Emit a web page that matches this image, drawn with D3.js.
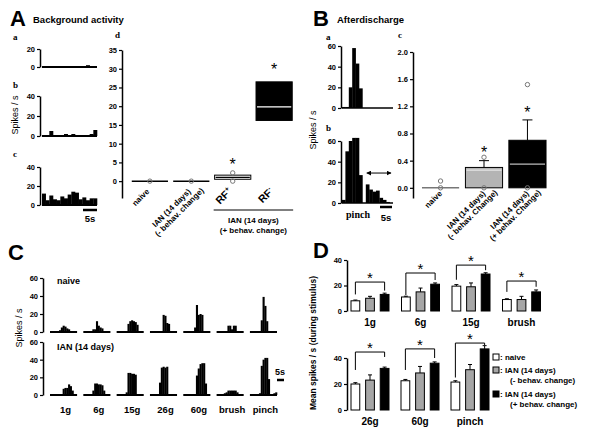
<!DOCTYPE html>
<html>
<head>
<meta charset="utf-8">
<script src="https://cdn.jsdelivr.net/npm/d3@7"></script>
<style>
body { margin: 0; background: #fff; }
text { font-family: "Liberation Sans", Arial, sans-serif; fill: #000; }
.serif { font-family: "Liberation Serif", "Times New Roman", serif; }
</style>
</head>
<body>
<script>
// ---- A: background activity histograms (spikes/s per bin)
var bgA = [0,0,0,0,0,0,0,0,0,0,0,0,2,1,0];
var bgB = [1,1,5,1,1,1,2,1,2,1,1,1,1,2,6];
var bgC = [12,5,10,6,5,9,7,11,14,13,6,8,5,7,7];

// ---- A d: box plots
var adLabels = [["naive"], ["IAN (14 days)", "(- behav. change)"], ["RF+"], ["RF-"]];
var adQ1 = [0, 0, 0.5, 16.2];
var adMed = [0, 0, 1.0, 19.8];
var adQ3 = [0, 0, 1.6, 26.5];
var adPts = [[0], [0], [2.2, 0], []];
var adStar = [null, null, 5.1, 30.5];

// ---- B: afterdischarge histograms
var adHistA = [1,1,20,58,43,19,0,0,0,0,0,0,0,0,0];
var adHistB = [3,50,60,63,63,27,0,18,13,11,12,5,3,1,0];

// ---- B c: box plots
var bcLabels = [["naive"], ["IAN (14 days)", "(- behav. Change)"], ["IAN (14 days)", "(+ behav. Change)"]];
var bcQ1 = [0, 0, 0];
var bcMed = [0, 0.26, 0.35];
var bcQ3 = [0, 0.3, 0.7];
var bcWhisk = [0, 0.4, 1.0];
var bcPts = [[0, 0.1], [0.45, 0], [1.52, 0]];
var bcStar = [null, 0.56, 1.15];

// ---- C: responses to stimuli
var stimuli = ["1g", "6g", "15g", "26g", "60g", "brush", "pinch"];
var cNaive = [
  [0,0,0,0,0,2,5,7,6,4,3,1,0,0,0],
  [0,0,0,0,0,3,3,12,7,5,4,0,0,0,0],
  [0,0,0,0,0,0,9,12,13,12,11,8,0,0,0],
  [0,0,0,0,0,0,0,19,18,10,9,0,0,0,0],
  [0,0,0,0,0,0,5,30,19,20,19,0,0,0,0],
  [0,0,0,0,0,0,7,7,3,7,7,0,0,0,0],
  [0,0,0,0,0,0,13,39,29,12,0,0,0,0,0]
];
var cIan = [
  [0,0,0,0,0,0,1,7,8,8,12,10,5,0,0],
  [0,0,0,0,0,5,13,13,12,12,11,5,0,0,0],
  [0,0,0,0,0,3,25,25,24,24,23,0,0,0,0],
  [0,0,0,0,0,14,31,32,31,32,0,0,0,0,0],
  [0,0,0,0,0,0,0,22,30,35,36,36,13,0,0],
  [0,0,0,0,2,3,5,5,5,5,5,3,0,0,0],
  [0,0,0,0,0,2,33,40,42,42,18,0,0,2,3]
];

// ---- D: mean spikes during stimulus
var dTopGroups = ["1g", "6g", "15g", "brush"];
var dTopNaive = [8, 11, 19.5, 9], dTopNaiveErr = [0.6, 0.6, 1.2, 0.6];
var dTopMinus = [10, 15, 19, 9], dTopMinusErr = [1.5, 3, 3, 2.5];
var dTopPlus = [13, 21, 29, 15], dTopPlusErr = [1, 1, 1, 1.5];
var dTopBracket = [[22.7, 13, 16], [29.8, 12.5, 24.3], [36, 24.5, 32], [23.5, 15, 19]];
var dBotGroups = ["26g", "60g", "pinch"];
var dBotNaive = [20, 22.5, 21.5], dBotNaiveErr = [1, 1, 1];
var dBotMinus = [23, 28.5, 31], dBotMinusErr = [4, 5, 4];
var dBotPlus = [32, 36, 47], dBotPlusErr = [1, 1, 2.5];
var dBotBracket = [[44.6, 30.8, 40.8], [47, 30.8, 40], [51.5, 25, 50]];
var legendLabels = [[": naive"], [": IAN (14 days)", "(- behav. change)"], [": IAN (14 days)", "(+ behav. change)"]];

var svg = d3.select("body").append("svg").attr("width", 600).attr("height", 441);
svg.append("rect").attr("width", 600).attr("height", 441).attr("fill", "#fff");

function txt(x, y, s, size, opt) {
  opt = opt || {};
  var t = svg.append("text").attr("x", x).attr("y", y).text(s)
    .style("font-size", size + "px").style("font-weight", opt.normal ? "normal" : "bold")
    .attr("text-anchor", opt.anchor || "start");
  if (opt.serif) t.attr("class", "serif");
  if (opt.rot) t.attr("transform", "rotate(" + opt.rot + "," + x + "," + y + ")");
  return t;
}

function axisL(x, scale, ticks, fmt) {
  var ax = d3.axisLeft(scale).tickValues(ticks).tickSize(3).tickSizeOuter(0).tickPadding(2);
  if (fmt) ax.tickFormat(fmt);
  var g = svg.append("g").attr("transform", "translate(" + x + ",0)").call(ax);
  g.select(".domain").attr("stroke-width", 1.5);
  g.selectAll(".tick line").attr("stroke-width", 1.2);
  g.selectAll(".tick text").style("font-size", "7.5px").style("font-weight", "bold");
  return g;
}

function hist(vals, x0, x1, y, lw) {
  var xb = d3.scaleBand().domain(d3.range(vals.length)).range([x0, x1]);
  svg.append("g").selectAll("rect").data(vals).join("rect")
    .attr("x", function (d, i) { return xb(i); })
    .attr("width", xb.bandwidth() + 0.3)
    .attr("y", function (d) { return y(d); })
    .attr("height", function (d) { return y(0) - y(d); })
    .attr("fill", "#000");
  svg.append("line").attr("x1", x0).attr("x2", x1).attr("y1", y(0)).attr("y2", y(0))
    .attr("stroke", "#000").attr("stroke-width", lw || 2);
  return xb;
}

function star(x, y, size) {
  txt(x, y, "*", size || 16, { anchor: "middle", normal: true });
}

function rotLabels(scale, labels, y, dx, step, size) {
  labels.forEach(function (lines, i) {
    lines.forEach(function (t, j) {
      var px = scale(i) + scale.bandwidth() / 2 + dx + j * step, py = y - j;
      var el = svg.append("text").attr("transform", "translate(" + px + "," + py + ") rotate(-45)")
        .attr("text-anchor", "end").style("font-weight", "bold");
      var m = t.match(/^RF(.)$/);
      if (m) {
        el.style("font-size", "10.5px").text("RF");
        el.append("tspan").attr("dy", -4).style("font-size", "7px").text(m[1]);
      } else {
        el.style("font-size", size + "px").text(t);
      }
    });
  });
}

function boxes(scale, y, q1, med, q3, whisk, pts, stars, fills, medCol, flatCol) {
  var bw = scale.bandwidth() * 0.95;
  q1.forEach(function (d, i) {
    var x0 = scale(i) + (scale.bandwidth() - bw) / 2, cx = scale(i) + scale.bandwidth() / 2;
    if (q3[i] === q1[i]) {
      svg.append("line").attr("x1", x0).attr("x2", x0 + bw).attr("y1", y(med[i])).attr("y2", y(med[i]))
        .attr("stroke", flatCol).attr("stroke-width", 1.5);
    } else {
      if (whisk && whisk[i] > q3[i]) {
        svg.append("line").attr("x1", cx).attr("x2", cx).attr("y1", y(q3[i])).attr("y2", y(whisk[i])).attr("stroke", "#000");
        svg.append("line").attr("x1", cx - 5).attr("x2", cx + 5).attr("y1", y(whisk[i])).attr("y2", y(whisk[i])).attr("stroke", "#000");
      }
      svg.append("rect").attr("x", x0).attr("width", bw).attr("y", y(q3[i])).attr("height", y(q1[i]) - y(q3[i]))
        .attr("fill", fills[i]).attr("stroke", "#000").attr("stroke-width", 1);
      svg.append("line").attr("x1", x0 + 1).attr("x2", x0 + bw - 1).attr("y1", y(med[i])).attr("y2", y(med[i]))
        .attr("stroke", medCol[i]).attr("stroke-width", 1.2);
    }
    pts[i].forEach(function (p) {
      svg.append("circle").attr("cx", cx).attr("cy", y(p)).attr("r", 2.2)
        .attr("fill", "none").attr("stroke", "#777").attr("stroke-width", 1);
    });
    if (stars[i] !== null) star(cx, y(stars[i]) + 8);
  });
}

// ================= Panel A =================
txt(10, 26, "A", 22);
txt(33, 23, "Background activity", 9.5);
txt(13, 40, "a", 9, { serif: true });
txt(13, 88, "b", 9, { serif: true });
txt(13, 157, "c", 9, { serif: true });
txt(115, 38, "d", 9, { serif: true });
txt(18, 115, "Spikes / s", 9, { anchor: "middle", rot: -90, normal: true });

var yAa = d3.scaleLinear().domain([0, 20]).range([67, 49]);
var yAb = d3.scaleLinear().domain([0, 40]).range([136, 96]);
var yAc = d3.scaleLinear().domain([0, 40]).range([205, 167]);
hist(bgA, 42, 97, yAa);
hist(bgB, 42, 97, yAb);
hist(bgC, 42, 97, yAc);
axisL(40, yAa, [0, 20]);
axisL(40, yAb, [0, 20, 40]);
axisL(40, yAc, [0, 20, 40]);
svg.append("line").attr("x1", 83).attr("x2", 97).attr("y1", 210).attr("y2", 210).attr("stroke", "#000").attr("stroke-width", 2.5);
txt(90, 222, "5s", 9.5, { anchor: "middle" });

var yAd = d3.scaleLinear().domain([-4.5, 35]).range([198, 50]);
var xAd = d3.scaleBand().domain(d3.range(4)).range([130, 294]).paddingInner(0.08).paddingOuter(0.02);
axisL(122, yAd, d3.range(0, 36, 5));
boxes(xAd, yAd, adQ1, adMed, adQ3, null, adPts, adStar, ["#000", "#000", "#fff", "#000"], ["#000", "#000", "#000", "#fff"], "#000");
rotLabels(xAd, adLabels, 192, 0, 13, 8);
var rfX0 = xAd(2), rfX1 = xAd(3) + xAd.bandwidth();
svg.append("line").attr("x1", rfX0).attr("x2", rfX1).attr("y1", 210).attr("y2", 210).attr("stroke", "#000");
txt((rfX0 + rfX1) / 2, 223, "IAN (14 days)", 8, { anchor: "middle" });
txt((rfX0 + rfX1) / 2, 233, "(+ behav. change)", 8, { anchor: "middle" });

// ================= Panel B =================
txt(313, 26, "B", 22);
txt(337, 23, "Afterdischarge", 9.5);
txt(326, 40, "a", 9, { serif: true });
txt(326, 131, "b", 9, { serif: true });
txt(398, 38, "c", 9, { serif: true });
txt(316, 130, "Spikes / s", 9, { anchor: "middle", rot: -90, normal: true });

var yBa = d3.scaleLinear().domain([0, 60]).range([108, 46]);
var yBb = d3.scaleLinear().domain([0, 60]).range([203, 141]);
hist(adHistA, 342, 393, yBa, 1.5);
var xbB = hist(adHistB, 342, 393, yBb, 1.5);
axisL(341, yBa, [0, 20, 40, 60]);
axisL(341, yBb, [0, 20, 40, 60]);

var defs = svg.append("defs");
defs.append("marker").attr("id", "ah").attr("viewBox", "0 0 10 10").attr("refX", 9).attr("refY", 5)
  .attr("markerWidth", 5).attr("markerHeight", 5).attr("orient", "auto-start-reverse")
  .append("path").attr("d", "M0,0L10,5L0,10z").attr("fill", "#000");
svg.append("line").attr("x1", xbB(7) + 1).attr("x2", xbB(14) + xbB.bandwidth() - 2)
  .attr("y1", yBb(29)).attr("y2", yBb(29)).attr("stroke", "#000").attr("stroke-width", 1)
  .attr("marker-start", "url(#ah)").attr("marker-end", "url(#ah)");
txt(358, 218, "pinch", 10, { anchor: "middle", serif: true });
svg.append("line").attr("x1", 380).attr("x2", 392).attr("y1", 207).attr("y2", 207).attr("stroke", "#000").attr("stroke-width", 2.5);
txt(386, 221, "5s", 9.5, { anchor: "middle" });

var yBc = d3.scaleLinear().domain([-0.15, 2.0]).range([198, 52]);
var xBc = d3.scaleBand().domain(d3.range(3)).range([421, 547]).paddingInner(0.1);
axisL(413, yBc, [0, 0.4, 0.8, 1.2, 1.6, 2.0], d3.format(".1f"));
boxes(xBc, yBc, bcQ1, bcMed, bcQ3, bcWhisk, bcPts, bcStar, ["#fff", "#b4b4b4", "#000"], ["#000", "#e6e6e6", "#bbb"], "#777");
rotLabels(xBc, bcLabels, 194, 2, 12, 8);

// ================= Panel C =================
txt(8, 260, "C", 22);
txt(22, 328, "Spikes / s", 9, { anchor: "middle", rot: -90, normal: true });
var yCt = d3.scaleLinear().domain([0, 60]).range([332, 278]);
var yCb = d3.scaleLinear().domain([0, 60]).range([395, 342]);
var xC = d3.scaleBand().domain(stimuli).range([50, 277]).paddingInner(0.187);
stimuli.forEach(function (s, i) {
  hist(cNaive[i], xC(s), xC(s) + xC.bandwidth(), yCt);
  hist(cIan[i], xC(s), xC(s) + xC.bandwidth(), yCb);
  txt(xC(s) + xC.bandwidth() / 2 + 2, 413, s, 9.5, { anchor: "middle" });
});
axisL(43, yCt, [0, 20, 40, 60]);
axisL(43, yCb, [0, 20, 40, 60]);
txt(57, 284, "naive", 9);
txt(57, 350, "IAN (14 days)", 9);
svg.append("line").attr("x1", 277).attr("x2", 284).attr("y1", 380).attr("y2", 380).attr("stroke", "#000").attr("stroke-width", 2.5);
txt(280, 375, "5s", 9, { anchor: "middle" });

// ================= Panel D =================
txt(313, 258, "D", 22);
txt(316, 343, "Mean spikes / s (during stimulus)", 8.5, { anchor: "middle", rot: -90 });
var yDt = d3.scaleLinear().domain([0, 40]).range([311, 260]);
var yDb = d3.scaleLinear().domain([0, 40]).range([410, 358]);
var xDt = d3.scaleBand().domain(dTopGroups).range([351, 351 + 4 * 50.5]);
var xDb = d3.scaleBand().domain(dBotGroups).range([351, 351 + 3 * 50]);
var inner = d3.scaleBand().domain([0, 1, 2]).range([0, 38]).paddingInner(0.4);
var dFills = ["#fff", "#a6a6a6", "#000"];

function barGroup(groups, xs, y, series, errs, brackets, labelY) {
  groups.forEach(function (g, gi) {
    var gx = xs(g);
    series.forEach(function (ser, k) {
      var v = ser[gi], e = errs[k][gi], bx = gx + inner(k), cx = bx + inner.bandwidth() / 2;
      svg.append("line").attr("x1", cx).attr("x2", cx).attr("y1", y(v)).attr("y2", y(v + e)).attr("stroke", "#000");
      svg.append("line").attr("x1", cx - 2).attr("x2", cx + 2).attr("y1", y(v + e)).attr("y2", y(v + e)).attr("stroke", "#000");
      svg.append("rect").attr("x", bx).attr("width", inner.bandwidth()).attr("y", y(v)).attr("height", y(0) - y(v))
        .attr("fill", dFills[k]).attr("stroke", "#000").attr("stroke-width", 1);
    });
    var b = brackets[gi];
    var lx = gx + inner(0) + inner.bandwidth() / 2, rx = gx + inner(2) + inner.bandwidth() / 2;
    svg.append("path").attr("d", "M" + lx + "," + y(b[1]) + "V" + y(b[0]) + "H" + rx + "V" + y(b[2]))
      .attr("fill", "none").attr("stroke", "#000").attr("stroke-width", 1);
    star((lx + rx) / 2, y(b[0]) + 1, 15);
    txt(gx + 19, labelY, g, 10, { anchor: "middle" });
  });
}
barGroup(dTopGroups, xDt, yDt, [dTopNaive, dTopMinus, dTopPlus], [dTopNaiveErr, dTopMinusErr, dTopPlusErr], dTopBracket, 326);
barGroup(dBotGroups, xDb, yDb, [dBotNaive, dBotMinus, dBotPlus], [dBotNaiveErr, dBotMinusErr, dBotPlusErr], dBotBracket, 425);
axisL(347, yDt, [0, 20, 40]);
axisL(347, yDb, [0, 20, 40]);

var legY = [360, 373, 397];
legendLabels.forEach(function (lines, i) {
  svg.append("rect").attr("x", 493).attr("y", legY[i] - 6).attr("width", 6).attr("height", 6)
    .attr("fill", dFills[i]).attr("stroke", "#000").attr("stroke-width", 1);
  lines.forEach(function (t, j) {
    txt(j ? 510 : 500, legY[i] + j * 10, t, 8);
  });
});
</script>
</body>
</html>
